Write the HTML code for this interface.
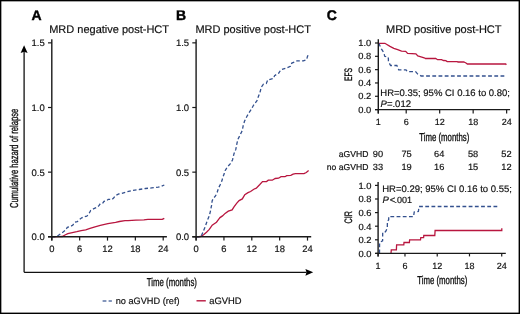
<!DOCTYPE html>
<html><head><meta charset="utf-8"><style>
html,body{margin:0;padding:0;background:#fff;}
svg{display:block;font-family:"Liberation Sans", sans-serif;will-change:transform;text-rendering:geometricPrecision;}
text{stroke:#111;stroke-width:0.18px;}
</style></head><body>
<svg width="520" height="314" viewBox="0 0 520 314">
<rect width="520" height="314" fill="#fff"/>
<polyline points="51.80,236.80 58.40,236.60 62.30,236.50 65.00,235.00 67.80,233.60 72.30,232.60 76.80,231.70 81.20,230.60 85.70,229.80 90.00,228.40 95.00,226.90 100.30,225.30 107.90,223.70 115.60,222.40 119.40,221.50 125.00,220.70 128.00,220.70 135.90,220.20 143.90,219.90 147.90,219.40 162.20,219.40 164.30,218.30" fill="none" stroke="#b8163f" stroke-width="1.3" stroke-linejoin="miter"/>
<polyline points="51.80,236.80 55.50,236.80 56.70,236.50 60.00,234.20 62.80,232.30 65.60,230.10 67.30,227.30 70.10,226.70 72.90,225.10 74.50,222.30 77.30,221.70 79.50,219.50 81.80,217.80 84.00,216.70 86.80,216.10 88.50,214.50 90.70,210.50 93.90,208.60 97.60,207.10 99.10,205.40 100.20,203.80 102.90,202.90 104.00,201.30 106.90,200.70 108.20,199.30 111.80,199.60 113.60,198.00 114.90,196.40 116.20,195.20 118.80,193.90 121.60,193.50 126.40,192.00 132.70,190.40 139.10,189.50 145.50,188.50 151.80,187.90 158.20,187.20 161.40,186.30 164.30,185.00" fill="none" stroke="#33508e" stroke-width="1.3" stroke-dasharray="3.5 2.3" stroke-linejoin="miter"/>
<polyline points="196.10,236.80 200.70,236.50 203.60,234.80 206.50,232.20 209.30,229.40 212.20,225.10 214.30,223.70 216.50,222.20 218.60,219.40 220.00,217.60 222.50,215.90 225.10,213.40 228.30,211.20 232.10,209.90 234.00,206.80 236.60,203.30 239.10,200.60 242.30,198.90 244.80,194.60 248.00,192.70 250.60,191.50 253.80,189.20 256.30,188.20 259.60,184.80 262.50,181.60 266.50,181.60 268.30,180.20 272.30,180.20 275.20,178.50 278.60,178.20 281.00,176.70 285.00,176.70 286.70,175.60 290.80,175.30 293.10,174.10 295.40,173.60 304.00,173.60 306.30,172.50 308.60,170.60" fill="none" stroke="#b8163f" stroke-width="1.3" stroke-linejoin="miter"/>
<polyline points="196.10,236.80 200.50,236.80 201.40,235.80 202.90,232.20 205.00,227.20 207.20,220.80 209.30,215.80 210.50,210.80 211.50,205.70 212.20,200.70 213.50,198.20 215.50,196.00 217.20,192.20 218.60,187.90 220.00,185.10 221.90,180.80 222.90,177.20 224.30,173.60 225.10,170.70 227.20,167.20 230.40,163.60 232.50,160.00 234.00,153.70 235.80,149.40 236.90,143.60 237.90,139.30 240.10,135.00 242.20,130.70 243.20,125.70 244.50,121.20 246.70,116.80 248.90,112.90 251.20,109.50 253.50,105.30 257.00,100.70 258.40,96.40 259.90,92.80 261.30,87.10 263.50,84.20 266.30,83.50 267.80,79.90 273.50,78.50 274.60,75.60 278.50,73.40 280.90,69.80 286.10,68.10 290.40,66.30 291.80,63.10 297.10,60.90 303.30,60.90 306.70,59.50 307.40,56.60 308.40,54.50" fill="none" stroke="#33508e" stroke-width="1.3" stroke-dasharray="3.5 2.3" stroke-linejoin="miter"/>
<polyline points="378.30,43.30 384.90,43.30 390.00,46.40 393.80,48.30 397.70,49.60 401.50,51.20 405.70,51.30 407.60,53.40 415.90,53.80 417.80,55.90 421.00,56.80 424.20,57.80 425.50,58.50 435.70,58.50 437.60,59.70 441.50,59.70 443.60,60.50 445.80,60.60 447.20,61.60 457.30,61.60 458.00,62.00 463.80,62.00 466.00,63.00 467.40,64.00 505.70,64.00 506.40,64.70" fill="none" stroke="#b8163f" stroke-width="1.3" stroke-linejoin="miter"/>
<polyline points="378.30,43.30 379.20,44.20 381.40,48.90 383.90,52.70 384.70,56.30 387.80,56.80 388.40,58.50 388.40,61.70 389.20,63.00 390.60,65.50 396.80,65.50 397.90,67.40 398.70,69.90 406.00,69.90 407.20,71.60 415.60,71.60 417.70,74.10 421.20,76.00 506.00,76.00" fill="none" stroke="#33508e" stroke-width="1.3" stroke-dasharray="3.8 2.4" stroke-linejoin="miter"/>
<polyline points="391.00,253.40 391.30,249.90 396.40,249.90 396.60,244.80 403.80,244.80 404.00,242.50 409.40,242.50 409.60,239.80 420.50,239.80 420.80,237.70 423.60,237.70 423.80,235.50 434.80,235.50 435.10,230.50 501.80,230.50 501.80,228.30" fill="none" stroke="#b8163f" stroke-width="1.3" stroke-linejoin="miter"/>
<polyline points="379.50,253.40 379.60,242.50 382.60,240.80 382.70,232.30 385.50,231.80 387.30,228.00 387.40,221.50 388.70,219.70 388.70,216.60 413.60,216.60 414.20,212.00 418.40,211.50 419.00,206.50 497.70,206.50" fill="none" stroke="#33508e" stroke-width="1.3" stroke-dasharray="3.8 2.4" stroke-linejoin="miter"/>
<rect x="0" y="0" width="520" height="1.35" fill="#000"/>
<rect x="0" y="0" width="1.35" height="314" fill="#000"/>
<rect x="518.6" y="0" width="1.4" height="314" fill="#000"/>
<rect x="0" y="312.6" width="520" height="1.4" fill="#000"/>
<text x="31.60" y="19.60" font-size="14" text-anchor="start" font-weight="bold" font-style="normal" fill="#000" style="stroke:#000;stroke-width:0.4px">A</text>
<text x="176.00" y="19.60" font-size="14" text-anchor="start" font-weight="bold" font-style="normal" fill="#000" style="stroke:#000;stroke-width:0.4px">B</text>
<text x="326.80" y="19.75" font-size="14" text-anchor="start" font-weight="bold" font-style="normal" fill="#000" style="stroke:#000;stroke-width:0.4px">C</text>
<text x="49.20" y="33.20" font-size="11" text-anchor="start" font-weight="normal" font-style="normal" fill="#111" >MRD negative post-HCT</text>
<text x="195.40" y="33.10" font-size="11" text-anchor="start" font-weight="normal" font-style="normal" fill="#111" >MRD positive post-HCT</text>
<text x="386.00" y="33.10" font-size="11" text-anchor="start" font-weight="normal" font-style="normal" fill="#111" >MRD positive post-HCT</text>
<line x1="51.80" y1="39.30" x2="51.80" y2="240.60" stroke="#1a1a1a" stroke-width="1.4"/>
<line x1="48.00" y1="236.80" x2="166.90" y2="236.80" stroke="#1a1a1a" stroke-width="1.4"/>
<line x1="48.00" y1="236.80" x2="51.80" y2="236.80" stroke="#1a1a1a" stroke-width="1.2"/>
<text x="44.80" y="240.30" font-size="9.5" text-anchor="end" font-weight="normal" font-style="normal" fill="#111" >0.0</text>
<line x1="48.00" y1="172.15" x2="51.80" y2="172.15" stroke="#1a1a1a" stroke-width="1.2"/>
<text x="44.80" y="175.65" font-size="9.5" text-anchor="end" font-weight="normal" font-style="normal" fill="#111" >0.5</text>
<line x1="48.00" y1="107.50" x2="51.80" y2="107.50" stroke="#1a1a1a" stroke-width="1.2"/>
<text x="44.80" y="111.00" font-size="9.5" text-anchor="end" font-weight="normal" font-style="normal" fill="#111" >1.0</text>
<line x1="48.00" y1="42.85" x2="51.80" y2="42.85" stroke="#1a1a1a" stroke-width="1.2"/>
<text x="44.80" y="46.35" font-size="9.5" text-anchor="end" font-weight="normal" font-style="normal" fill="#111" >1.5</text>
<line x1="51.80" y1="236.80" x2="51.80" y2="240.60" stroke="#1a1a1a" stroke-width="1.2"/>
<text x="51.80" y="251.90" font-size="9.4" text-anchor="middle" font-weight="normal" font-style="normal" fill="#111" >0</text>
<line x1="79.65" y1="236.80" x2="79.65" y2="240.60" stroke="#1a1a1a" stroke-width="1.2"/>
<text x="79.65" y="251.90" font-size="9.4" text-anchor="middle" font-weight="normal" font-style="normal" fill="#111" >6</text>
<line x1="107.50" y1="236.80" x2="107.50" y2="240.60" stroke="#1a1a1a" stroke-width="1.2"/>
<text x="107.50" y="251.90" font-size="9.4" text-anchor="middle" font-weight="normal" font-style="normal" fill="#111" >12</text>
<line x1="135.35" y1="236.80" x2="135.35" y2="240.60" stroke="#1a1a1a" stroke-width="1.2"/>
<text x="135.35" y="251.90" font-size="9.4" text-anchor="middle" font-weight="normal" font-style="normal" fill="#111" >18</text>
<line x1="163.20" y1="236.80" x2="163.20" y2="240.60" stroke="#1a1a1a" stroke-width="1.2"/>
<text x="163.20" y="251.90" font-size="9.4" text-anchor="middle" font-weight="normal" font-style="normal" fill="#111" >24</text>
<line x1="196.10" y1="39.30" x2="196.10" y2="240.60" stroke="#1a1a1a" stroke-width="1.4"/>
<line x1="192.30" y1="236.80" x2="311.20" y2="236.80" stroke="#1a1a1a" stroke-width="1.4"/>
<line x1="192.30" y1="236.80" x2="196.10" y2="236.80" stroke="#1a1a1a" stroke-width="1.2"/>
<text x="189.10" y="240.30" font-size="9.5" text-anchor="end" font-weight="normal" font-style="normal" fill="#111" >0.0</text>
<line x1="192.30" y1="172.15" x2="196.10" y2="172.15" stroke="#1a1a1a" stroke-width="1.2"/>
<text x="189.10" y="175.65" font-size="9.5" text-anchor="end" font-weight="normal" font-style="normal" fill="#111" >0.5</text>
<line x1="192.30" y1="107.50" x2="196.10" y2="107.50" stroke="#1a1a1a" stroke-width="1.2"/>
<text x="189.10" y="111.00" font-size="9.5" text-anchor="end" font-weight="normal" font-style="normal" fill="#111" >1.0</text>
<line x1="192.30" y1="42.85" x2="196.10" y2="42.85" stroke="#1a1a1a" stroke-width="1.2"/>
<text x="189.10" y="46.35" font-size="9.5" text-anchor="end" font-weight="normal" font-style="normal" fill="#111" >1.5</text>
<line x1="196.10" y1="236.80" x2="196.10" y2="240.60" stroke="#1a1a1a" stroke-width="1.2"/>
<text x="196.10" y="251.90" font-size="9.4" text-anchor="middle" font-weight="normal" font-style="normal" fill="#111" >0</text>
<line x1="223.95" y1="236.80" x2="223.95" y2="240.60" stroke="#1a1a1a" stroke-width="1.2"/>
<text x="223.95" y="251.90" font-size="9.4" text-anchor="middle" font-weight="normal" font-style="normal" fill="#111" >6</text>
<line x1="251.80" y1="236.80" x2="251.80" y2="240.60" stroke="#1a1a1a" stroke-width="1.2"/>
<text x="251.80" y="251.90" font-size="9.4" text-anchor="middle" font-weight="normal" font-style="normal" fill="#111" >12</text>
<line x1="279.65" y1="236.80" x2="279.65" y2="240.60" stroke="#1a1a1a" stroke-width="1.2"/>
<text x="279.65" y="251.90" font-size="9.4" text-anchor="middle" font-weight="normal" font-style="normal" fill="#111" >18</text>
<line x1="307.50" y1="236.80" x2="307.50" y2="240.60" stroke="#1a1a1a" stroke-width="1.2"/>
<text x="307.50" y="251.90" font-size="9.4" text-anchor="middle" font-weight="normal" font-style="normal" fill="#111" >24</text>
<text transform="translate(17.90,158.40) rotate(-90) scale(0.664,1)" font-size="11.5" text-anchor="middle" font-weight="normal" fill="#111" style="stroke:#111;stroke-width:0.35px">Cumulative hazard of relapse</text>
<line x1="24.10" y1="51.50" x2="24.10" y2="272.30" stroke="#111" stroke-width="1.3"/>
<line x1="24.10" y1="272.30" x2="306.50" y2="272.30" stroke="#111" stroke-width="1.3"/>
<path d="M24.1,45.3 L27.6,52.9 L24.1,51.8 L20.6,52.9 Z" fill="#000"/>
<path d="M313.2,272.3 L305.4,268.9 L306.5,272.3 L305.4,275.7 Z" fill="#000"/>
<text transform="translate(171.90,285.60) scale(0.68,1)" font-size="11.5" text-anchor="middle" font-weight="normal" fill="#111" style="stroke:#111;stroke-width:0.35px">Time (months)</text>
<line x1="102.60" y1="301.00" x2="106.40" y2="301.00" stroke="#33508e" stroke-width="1.2"/>
<line x1="108.60" y1="301.00" x2="111.90" y2="301.00" stroke="#33508e" stroke-width="1.2"/>
<text x="115.70" y="303.80" font-size="9.2" text-anchor="start" font-weight="normal" font-style="normal" fill="#111" >no aGVHD (ref)</text>
<line x1="196.50" y1="300.80" x2="205.80" y2="300.80" stroke="#b8163f" stroke-width="1.4"/>
<text x="209.20" y="303.80" font-size="9.4" text-anchor="start" font-weight="normal" font-style="normal" fill="#111" >aGVHD</text>
<line x1="378.30" y1="39.30" x2="378.30" y2="113.50" stroke="#1a1a1a" stroke-width="1.4"/>
<line x1="375.00" y1="109.60" x2="510.10" y2="109.60" stroke="#1a1a1a" stroke-width="1.4"/>
<line x1="375.00" y1="109.60" x2="378.30" y2="109.60" stroke="#1a1a1a" stroke-width="1.2"/>
<text transform="translate(371.20,112.70) scale(1.04,1.0)" font-size="9.0" text-anchor="end" font-weight="normal" font-style="normal" fill="#111" >0.0</text>
<line x1="375.00" y1="96.28" x2="378.30" y2="96.28" stroke="#1a1a1a" stroke-width="1.2"/>
<text transform="translate(371.20,99.38) scale(1.04,1.0)" font-size="9.0" text-anchor="end" font-weight="normal" font-style="normal" fill="#111" >0.2</text>
<line x1="375.00" y1="82.96" x2="378.30" y2="82.96" stroke="#1a1a1a" stroke-width="1.2"/>
<text transform="translate(371.20,86.06) scale(1.04,1.0)" font-size="9.0" text-anchor="end" font-weight="normal" font-style="normal" fill="#111" >0.4</text>
<line x1="375.00" y1="69.64" x2="378.30" y2="69.64" stroke="#1a1a1a" stroke-width="1.2"/>
<text transform="translate(371.20,72.74) scale(1.04,1.0)" font-size="9.0" text-anchor="end" font-weight="normal" font-style="normal" fill="#111" >0.6</text>
<line x1="375.00" y1="56.32" x2="378.30" y2="56.32" stroke="#1a1a1a" stroke-width="1.2"/>
<text transform="translate(371.20,59.42) scale(1.04,1.0)" font-size="9.0" text-anchor="end" font-weight="normal" font-style="normal" fill="#111" >0.8</text>
<line x1="375.00" y1="43.00" x2="378.30" y2="43.00" stroke="#1a1a1a" stroke-width="1.2"/>
<text transform="translate(371.20,46.10) scale(1.04,1.0)" font-size="9.0" text-anchor="end" font-weight="normal" font-style="normal" fill="#111" >1.0</text>
<line x1="378.30" y1="109.60" x2="378.30" y2="113.50" stroke="#1a1a1a" stroke-width="1.2"/>
<text x="378.30" y="124.90" font-size="9.0" text-anchor="middle" font-weight="normal" font-style="normal" fill="#111" >1</text>
<line x1="406.20" y1="109.60" x2="406.20" y2="113.50" stroke="#1a1a1a" stroke-width="1.2"/>
<text x="406.20" y="124.90" font-size="9.0" text-anchor="middle" font-weight="normal" font-style="normal" fill="#111" >6</text>
<line x1="439.68" y1="109.60" x2="439.68" y2="113.50" stroke="#1a1a1a" stroke-width="1.2"/>
<text x="439.68" y="124.90" font-size="9.0" text-anchor="middle" font-weight="normal" font-style="normal" fill="#111" >12</text>
<line x1="473.16" y1="109.60" x2="473.16" y2="113.50" stroke="#1a1a1a" stroke-width="1.2"/>
<text x="473.16" y="124.90" font-size="9.0" text-anchor="middle" font-weight="normal" font-style="normal" fill="#111" >18</text>
<line x1="506.64" y1="109.60" x2="506.64" y2="113.50" stroke="#1a1a1a" stroke-width="1.2"/>
<text x="506.64" y="124.90" font-size="9.0" text-anchor="middle" font-weight="normal" font-style="normal" fill="#111" >24</text>
<text transform="translate(351.60,74.50) rotate(-90) scale(0.62,1)" font-size="10.8" text-anchor="middle" font-weight="normal" fill="#111" style="stroke:#111;stroke-width:0.35px">EFS</text>
<text transform="translate(444.30,140.90) scale(0.68,1)" font-size="11.5" text-anchor="middle" font-weight="normal" fill="#111" style="stroke:#111;stroke-width:0.35px">Time (months)</text>
<text x="380.30" y="95.60" font-size="9.5" text-anchor="start" font-weight="normal" font-style="normal" fill="#111" >HR=0.35; 95% CI 0.16 to 0.80;</text>
<text x="380.6" y="106.6" font-size="9.5" fill="#111"><tspan font-style="italic">P</tspan>=.012</text>
<text x="368.40" y="156.90" font-size="8.6" text-anchor="end" font-weight="normal" font-style="normal" fill="#111" >aGVHD</text>
<text x="368.40" y="170.00" font-size="8.6" text-anchor="end" font-weight="normal" font-style="normal" fill="#111" >no aGVHD</text>
<text transform="translate(378.00,156.90) scale(1.03,1.0)" font-size="9.0" text-anchor="middle" font-weight="normal" font-style="normal" fill="#111" >90</text>
<text transform="translate(378.00,170.00) scale(1.03,1.0)" font-size="9.0" text-anchor="middle" font-weight="normal" font-style="normal" fill="#111" >33</text>
<text transform="translate(406.60,156.90) scale(1.03,1.0)" font-size="9.0" text-anchor="middle" font-weight="normal" font-style="normal" fill="#111" >75</text>
<text transform="translate(406.60,170.00) scale(1.03,1.0)" font-size="9.0" text-anchor="middle" font-weight="normal" font-style="normal" fill="#111" >19</text>
<text transform="translate(439.20,156.90) scale(1.03,1.0)" font-size="9.0" text-anchor="middle" font-weight="normal" font-style="normal" fill="#111" >64</text>
<text transform="translate(439.20,170.00) scale(1.03,1.0)" font-size="9.0" text-anchor="middle" font-weight="normal" font-style="normal" fill="#111" >16</text>
<text transform="translate(473.10,156.90) scale(1.03,1.0)" font-size="9.0" text-anchor="middle" font-weight="normal" font-style="normal" fill="#111" >58</text>
<text transform="translate(473.10,170.00) scale(1.03,1.0)" font-size="9.0" text-anchor="middle" font-weight="normal" font-style="normal" fill="#111" >15</text>
<text transform="translate(506.40,156.90) scale(1.03,1.0)" font-size="9.0" text-anchor="middle" font-weight="normal" font-style="normal" fill="#111" >52</text>
<text transform="translate(506.40,170.00) scale(1.03,1.0)" font-size="9.0" text-anchor="middle" font-weight="normal" font-style="normal" fill="#111" >12</text>
<line x1="378.10" y1="181.90" x2="378.10" y2="256.40" stroke="#1a1a1a" stroke-width="1.4"/>
<line x1="375.30" y1="253.40" x2="505.80" y2="253.40" stroke="#1a1a1a" stroke-width="1.4"/>
<line x1="375.00" y1="253.40" x2="378.10" y2="253.40" stroke="#1a1a1a" stroke-width="1.2"/>
<text transform="translate(371.40,256.80) scale(1.04,1.0)" font-size="9.0" text-anchor="end" font-weight="normal" font-style="normal" fill="#111" >0.0</text>
<line x1="375.00" y1="239.80" x2="378.10" y2="239.80" stroke="#1a1a1a" stroke-width="1.2"/>
<text transform="translate(371.40,243.20) scale(1.04,1.0)" font-size="9.0" text-anchor="end" font-weight="normal" font-style="normal" fill="#111" >0.2</text>
<line x1="375.00" y1="226.20" x2="378.10" y2="226.20" stroke="#1a1a1a" stroke-width="1.2"/>
<text transform="translate(371.40,229.60) scale(1.04,1.0)" font-size="9.0" text-anchor="end" font-weight="normal" font-style="normal" fill="#111" >0.4</text>
<line x1="375.00" y1="212.60" x2="378.10" y2="212.60" stroke="#1a1a1a" stroke-width="1.2"/>
<text transform="translate(371.40,216.00) scale(1.04,1.0)" font-size="9.0" text-anchor="end" font-weight="normal" font-style="normal" fill="#111" >0.6</text>
<line x1="375.00" y1="199.00" x2="378.10" y2="199.00" stroke="#1a1a1a" stroke-width="1.2"/>
<text transform="translate(371.40,202.40) scale(1.04,1.0)" font-size="9.0" text-anchor="end" font-weight="normal" font-style="normal" fill="#111" >0.8</text>
<line x1="375.00" y1="185.40" x2="378.10" y2="185.40" stroke="#1a1a1a" stroke-width="1.2"/>
<text transform="translate(371.40,188.80) scale(1.04,1.0)" font-size="9.0" text-anchor="end" font-weight="normal" font-style="normal" fill="#111" >1.0</text>
<line x1="378.10" y1="253.40" x2="378.10" y2="256.40" stroke="#1a1a1a" stroke-width="1.2"/>
<text x="378.10" y="268.80" font-size="9.0" text-anchor="middle" font-weight="normal" font-style="normal" fill="#111" >1</text>
<line x1="404.98" y1="253.40" x2="404.98" y2="256.40" stroke="#1a1a1a" stroke-width="1.2"/>
<text x="404.98" y="268.80" font-size="9.0" text-anchor="middle" font-weight="normal" font-style="normal" fill="#111" >6</text>
<line x1="437.23" y1="253.40" x2="437.23" y2="256.40" stroke="#1a1a1a" stroke-width="1.2"/>
<text x="437.23" y="268.80" font-size="9.0" text-anchor="middle" font-weight="normal" font-style="normal" fill="#111" >12</text>
<line x1="469.48" y1="253.40" x2="469.48" y2="256.40" stroke="#1a1a1a" stroke-width="1.2"/>
<text x="469.48" y="268.80" font-size="9.0" text-anchor="middle" font-weight="normal" font-style="normal" fill="#111" >18</text>
<line x1="501.73" y1="253.40" x2="501.73" y2="256.40" stroke="#1a1a1a" stroke-width="1.2"/>
<text x="501.73" y="268.80" font-size="9.0" text-anchor="middle" font-weight="normal" font-style="normal" fill="#111" >24</text>
<text transform="translate(351.80,217.30) rotate(-90) scale(0.66,1)" font-size="10.8" text-anchor="middle" font-weight="normal" fill="#111" style="stroke:#111;stroke-width:0.35px">CIR</text>
<text transform="translate(442.30,284.20) scale(0.68,1)" font-size="11.5" text-anchor="middle" font-weight="normal" fill="#111" style="stroke:#111;stroke-width:0.35px">Time (months)</text>
<text x="382.20" y="192.00" font-size="9.5" text-anchor="start" font-weight="normal" font-style="normal" fill="#111" >HR=0.29; 95% CI 0.16 to 0.55;</text>
<text x="382.5" y="202.5" font-size="9.5" fill="#111"><tspan font-style="italic">P</tspan><tspan dx="0.8">&lt;</tspan><tspan dx="-0.6" font-size="9">.001</tspan></text>
</svg>
</body></html>
